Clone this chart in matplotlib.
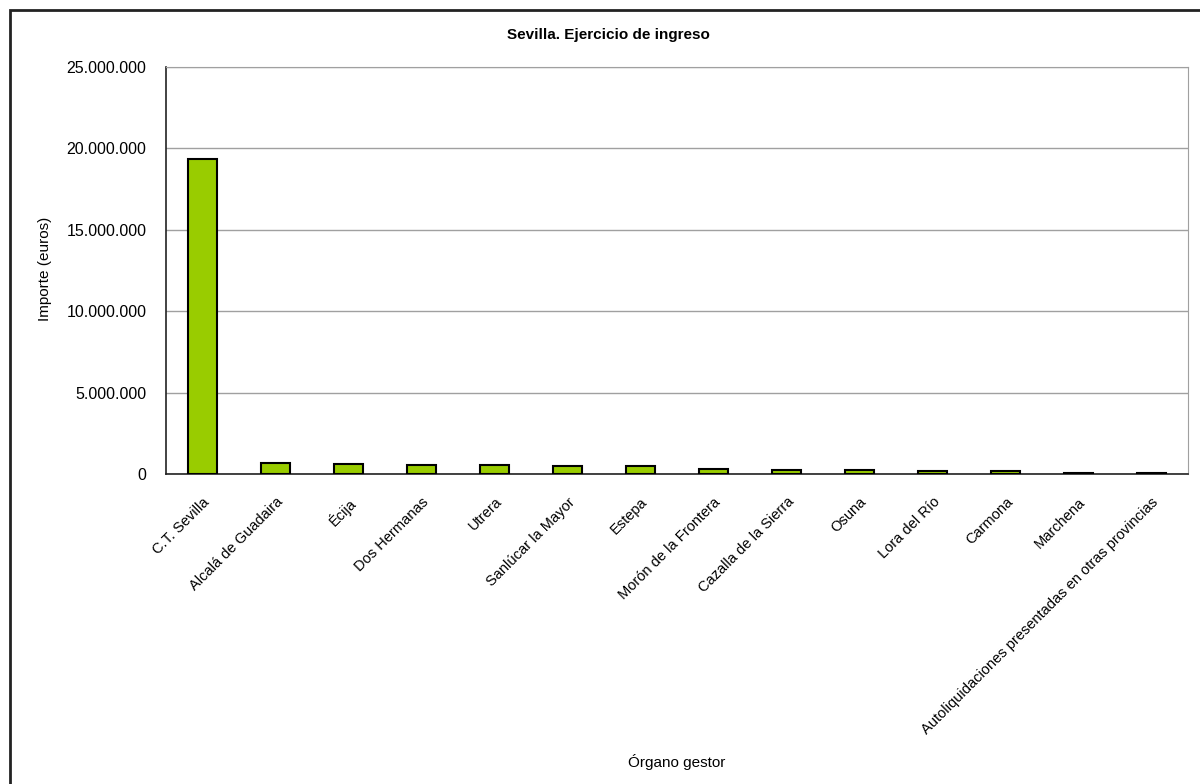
import matplotlib.pyplot as plt
from matplotlib.patches import Rectangle
from matplotlib.ticker import FuncFormatter, MultipleLocator

plt.rcParams['font.family'] = ['Liberation Sans', 'DejaVu Sans']

# Data (euros)
organos = [
    "C.T. Sevilla", "Alcalá de Guadaira", "Écija", "Dos Hermanas", "Utrera",
    "Sanlúcar la Mayor", "Estepa", "Morón de la Frontera", "Cazalla de la Sierra",
    "Osuna", "Lora del Río", "Carmona", "Marchena",
    "Autoliquidaciones presentadas en otras provincias",
]
importes = [
    19350000, 660000, 620000, 570000, 530000,
    510000, 470000, 310000, 270000,
    220000, 180000, 170000, 80000,
    70000,
]

fig = plt.figure(figsize=(12, 7.84), dpi=100)
ax = fig.add_axes([166 / 1200, 1 - 474 / 784, 1022 / 1200, 407 / 784])

# outer frame (only top and left edges visible in the reference)
fig.patches.append(Rectangle((10 / 1200, -0.05), 1.2, 0.987 + 0.05,
                             transform=fig.transFigure, fill=False,
                             edgecolor='#222222', linewidth=2, zorder=0))

x = range(len(organos))
ax.bar(x, importes, width=0.41, color='#99CC00', edgecolor='black',
       linewidth=1.5, zorder=3)

ax.set_xlim(-0.5, len(organos) - 0.5)
ax.set_ylim(0, 25000000)
ax.yaxis.set_major_locator(MultipleLocator(5000000))
ax.yaxis.set_major_formatter(FuncFormatter(lambda v, p: f"{int(v):,}".replace(",", ".")))
ax.grid(axis='y', color='#a0a0a0', linewidth=1, zorder=0)

ax.set_xticks(list(x))
ax.set_xticklabels(organos, rotation=45, ha='right', rotation_mode='anchor')
ax.tick_params(axis='both', length=0)
ax.tick_params(axis='x', pad=15, labelsize=10.5)
ax.tick_params(axis='y', pad=14, labelsize=11.5)

for side in ('top', 'right'):
    ax.spines[side].set_color('#a0a0a0')
ax.spines['left'].set_color('#222222')
ax.spines['bottom'].set_color('#222222')
ax.spines['left'].set_linewidth(1.2)
ax.spines['bottom'].set_linewidth(1.2)

fig.text(608 / 1200, 1 - 35 / 784, "Sevilla. Ejercicio de ingreso",
         ha='center', va='center', fontsize=11, fontweight='bold')
fig.text(45 / 1200, 1 - 269 / 784, "Importe (euros)", rotation=90,
         ha='center', va='center', fontsize=11)
fig.text(677 / 1200, 1 - 762 / 784, "Órgano gestor",
         ha='center', va='center', fontsize=11)

fig.savefig("out.png", dpi=100)
